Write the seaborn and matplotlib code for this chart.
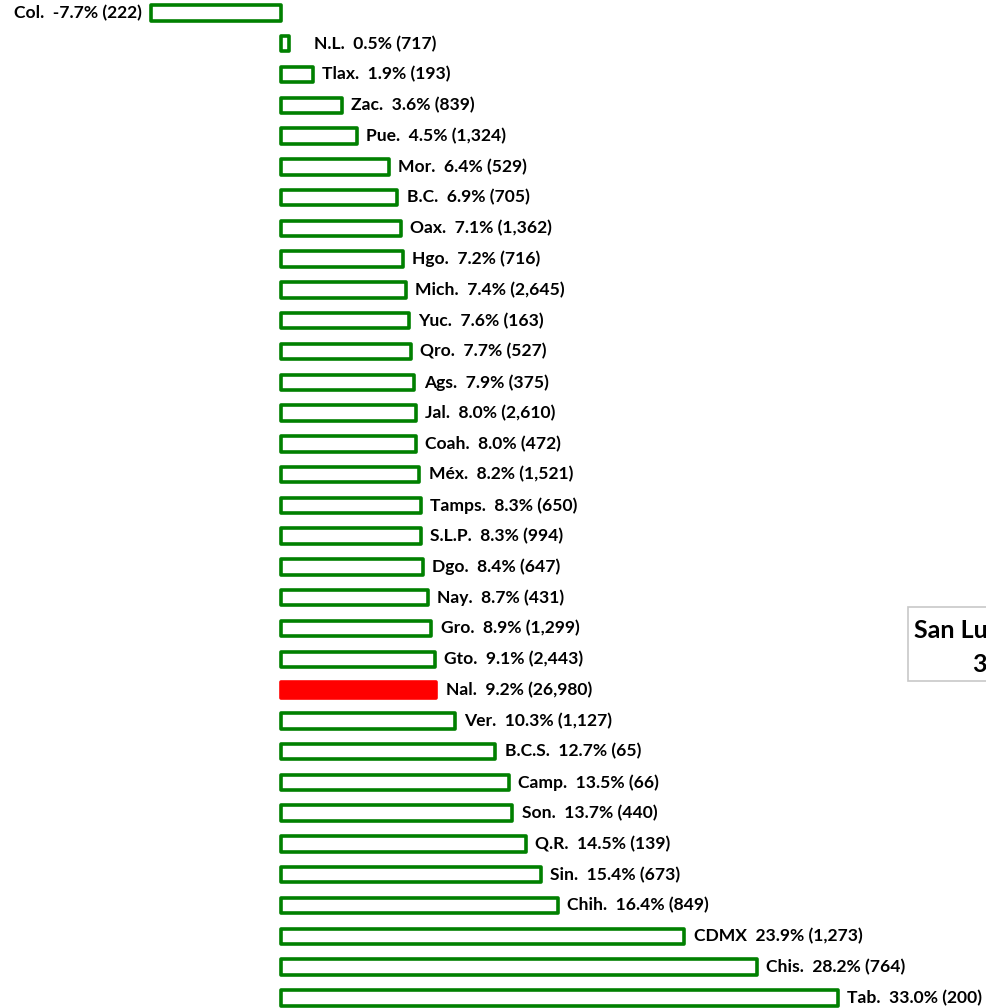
"""
Horizontal bar chart of percentage change by state (with national total highlighted).
"""

import pandas as pd
import matplotlib.pyplot as plt
import matplotlib.patches as mpatches
import seaborn as sns

# -- Data -------------------------------------------------------------------
STATES = ["Col.", "N.L.", "Tlax.", "Zac.", "Pue.", "Mor.", "B.C.", "Oax.", "Hgo.",
          "Mich.", "Yuc.", "Qro.", "Ags.", "Jal.", "Coah.", "Méx.", "Tamps.", "S.L.P.",
          "Dgo.", "Nay.", "Gro.", "Gto.", "Nal.", "Ver.", "B.C.S.", "Camp.", "Son.",
          "Q.R.", "Sin.", "Chih.", "CDMX", "Chis.", "Tab."]
PCT = [-7.7, 0.5, 1.9, 3.6, 4.5, 6.4, 6.9, 7.1, 7.2,
       7.4, 7.6, 7.7, 7.9, 8.0, 8.0, 8.2, 8.3, 8.3,
       8.4, 8.7, 8.9, 9.1, 9.2, 10.3, 12.7, 13.5, 13.7,
       14.5, 15.4, 16.4, 23.9, 28.2, 33.0]
COUNTS = [222, 717, 193, 839, 1324, 529, 705, 1362, 716,
          2645, 163, 527, 375, 2610, 472, 1521, 650, 994,
          647, 431, 1299, 2443, 26980, 1127, 65, 66, 440,
          139, 673, 849, 1273, 764, 200]
HIGHLIGHT = "Nal."
BOX_TITLE = "San Luis Potosí"
BOX_VALUE = "3°"

GREEN = "#008000"
RED = "#FF0000"
FONT = ["Lato", "DejaVu Sans"]

W, H, DPI = 986, 1008, 100


def main():
    sns.set_style("white")
    plt.rcParams["font.family"] = FONT

    df = pd.DataFrame({"State": STATES, "Pct": PCT, "Count": COUNTS})

    fig = plt.figure(figsize=(W / DPI, H / DPI), dpi=DPI)
    ax = fig.add_axes([0, 0, 1, 1])

    sns.barplot(data=df, x="Pct", y="State", orient="h", order=STATES,
                color="white", edgecolor=GREEN, linewidth=2.6, width=0.5,
                saturation=1, ax=ax)

    for patch, state in zip(ax.patches, STATES):
        patch.set_joinstyle("round")
        if state == HIGHLIGHT:
            patch.set_facecolor(RED)
            patch.set_edgecolor(RED)

    # data labels
    off = 0.55
    for i, row in df.iterrows():
        label = f"{row['State']}  {row['Pct']:.1f}% ({row['Count']:,})"
        if row["Pct"] < 0:
            ax.text(row["Pct"] - off, i, label, ha="right", va="center",
                    fontsize=12.6, fontweight="bold", color="black")
        else:
            ax.text(max(row["Pct"], 1.4) + off, i, label, ha="left", va="center",
                    fontsize=12.6, fontweight="bold", color="black")

    ax.set_xlim(-16.65, 41.77)
    ax.set_ylim(32.33, -0.42)
    ax.axis("off")

    # callout box (runs off the right edge, as in the original)
    box = mpatches.Rectangle((908 / W, 1 - 681 / H), 200 / W, 74 / H,
                             transform=fig.transFigure, facecolor="white",
                             edgecolor="#c8c8c8", linewidth=1.2)
    fig.patches.append(box)
    fig.text(914 / W, 1 - 630 / H, BOX_TITLE, ha="left", va="center",
             fontsize=18, fontweight="bold", color="black")
    fig.text(972 / W, 1 - 664 / H, BOX_VALUE, ha="left", va="center",
             fontsize=18, fontweight="bold", color="black")

    fig.savefig("out.png", dpi=DPI, facecolor="white")
    plt.close()


if __name__ == "__main__":
    main()
